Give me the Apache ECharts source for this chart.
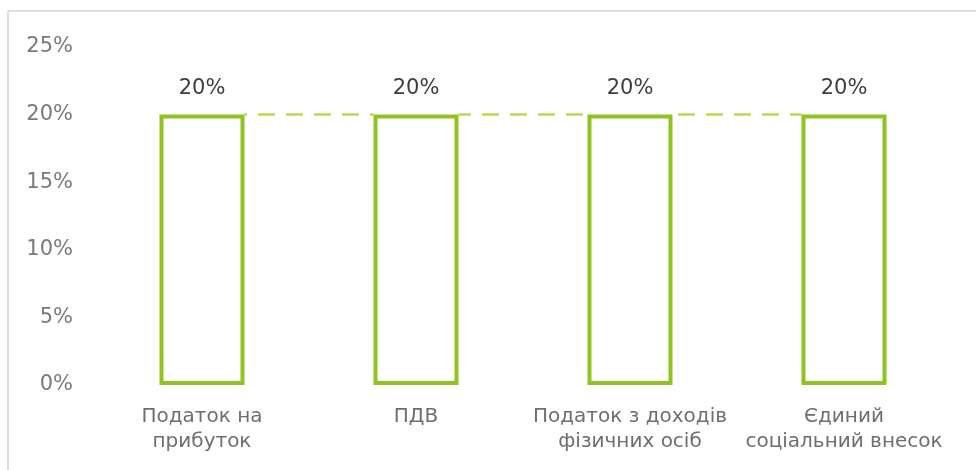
<!DOCTYPE html>
<html>
<head>
<meta charset="utf-8">
<script src="https://cdn.jsdelivr.net/npm/echarts@6/dist/echarts.min.js"></script>
<style>
  html, body { margin: 0; padding: 0; background: #fff; }
  #chart { width: 976px; height: 470px; }
</style>
</head>
<body>
<div id="chart"></div>
<script>
// Tax categories and their rates (%)
const categories = [
  'Податок на\nприбуток',
  'ПДВ',
  'Податок з доходів\nфізичних осіб',
  'Єдиний\nсоціальний внесок'
];
const rates = [20, 20, 20, 20];
const yTicks = [0, 5, 10, 15, 20, 25];

const FONT = '"DejaVu Sans", "Liberation Sans", Arial, sans-serif';
const GREEN = '#8fc31f';

const chart = echarts.init(document.getElementById('chart'));
chart.setOption({
  animation: false,
  backgroundColor: '#fff',
  grid: { left: 95, right: 25, top: 47, bottom: 85 },
  graphic: [
    // thin frame along the top and left edges
    { type: 'line', shape: { x1: 8, y1: 11, x2: 976, y2: 11 },
      style: { stroke: '#d4d4d4', lineWidth: 1.5 }, silent: true },
    { type: 'line', shape: { x1: 8, y1: 11, x2: 8, y2: 470 },
      style: { stroke: '#d4d4d4', lineWidth: 1.5 }, silent: true }
  ],
  xAxis: {
    type: 'category',
    data: categories,
    axisLine: { show: false },
    axisTick: { show: false },
    axisLabel: {
      color: '#6e6e6e',
      fontFamily: FONT,
      fontSize: 20,
      lineHeight: 25,
      margin: 19,
      interval: 0
    }
  },
  yAxis: {
    type: 'value',
    min: yTicks[0],
    max: yTicks[yTicks.length - 1],
    interval: 5,
    splitLine: { show: false },
    axisLine: { show: false },
    axisTick: { show: false },
    axisLabel: {
      color: '#7a7a7a',
      fontFamily: FONT,
      fontSize: 21,
      margin: 22,
      formatter: v => v + '%'
    }
  },
  series: [
    {
      // dashed guide linking the bar tops
      type: 'line',
      data: rates,
      symbol: 'none',
      z: 1,
      lineStyle: { color: '#bcd84e', width: 2.5, type: [17, 11] },
      silent: true
    },
    {
      type: 'bar',
      data: rates,
      barWidth: 85,
      z: 2,
      itemStyle: {
        color: '#fff',
        borderColor: GREEN,
        borderWidth: 4,
        // white offset shadow keeps the guide from showing over the bar tops
        shadowColor: '#fff',
        shadowBlur: 0,
        shadowOffsetY: -2
      },
      label: {
        show: true,
        position: 'top',
        distance: 16,
        color: '#3d3d3d',
        fontFamily: FONT,
        fontSize: 21,
        formatter: p => p.value + '%'
      }
    }
  ]
});
</script>
</body>
</html>
